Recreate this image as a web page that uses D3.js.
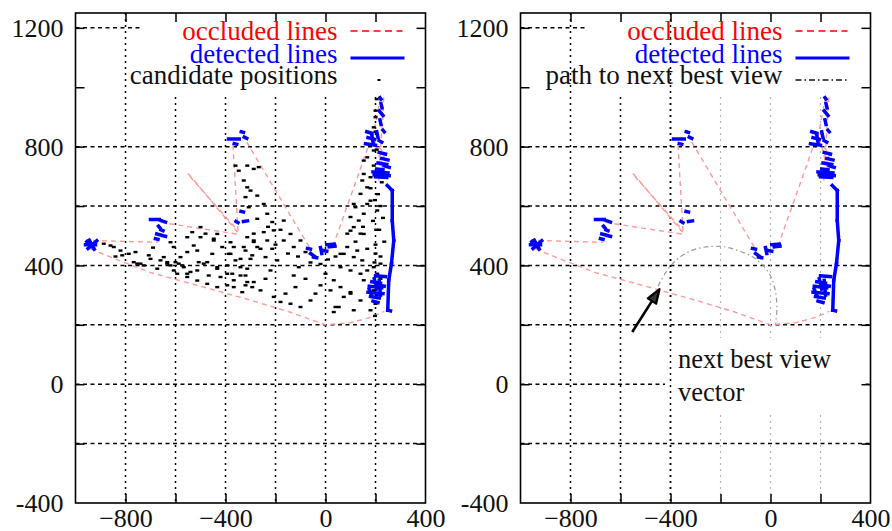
<!DOCTYPE html>
<html>
<head>
<meta charset="utf-8">
<script src="https://cdn.jsdelivr.net/npm/d3@7"></script>
<style>
  body { margin: 0; background: #fff; }
  svg { display: block; }
</style>
</head>
<body>
<svg id="chart" width="892" height="531"></svg>
<script>
// Axis extents and tick values
const xDomain = [-1000, 400];
const yDomain = [-400, 1250];
const xTickValues = [-800, -600, -400, -200, 0, 200];
const yTickValues = [-200, 0, 200, 400, 600, 800, 1000, 1200];
const xLabelValues = [-800, -400, 0, 400];
const yLabelValues = [-400, 0, 400, 800, 1200];
const gridXValues = [-800, -600, -400, -200, 0, 200];
const gridYValues = [-200, 0, 200, 400, 600, 800, 1200];
const fadedGridX = [-200, 0, 200];

// Occluded line polylines (mm)
const occludedLines = [
  [[-930, 484], [-670, 478]],
  [[-940, 455], [-820, 415], [-700, 376], [-500, 330], [-300, 283], [-150, 245], [0, 200], [100, 207], [180, 225], [235, 245]],
  [[-660, 545], [-350, 505]],
  [[-550, 710], [-350, 510]],
  [[-543, 700], [-356, 522]],
  [[-370, 805], [-350, 515]],
  [[-315, 815], [-60, 455]],
  [[30, 465], [175, 810]],
  [[220, 966], [187, 820]],
  [[233, 966], [213, 686]],
  [[187, 820], [240, 775]],
  [[195, 830], [230, 720]],
  [[240, 780], [200, 700]],
  [[212, 312], [218, 308]]
];

// Detected line segments [x1, y1, x2, y2] (mm)
const detectedLines = [
  [-960, 470, -920, 470], [-955, 480, -930, 460], [-950, 457, -915, 483], [-945, 485, -925, 455],
  [-700, 555, -665, 555], [-660, 552, -640, 546], [-668, 532, -662, 526], [-658, 520, -650, 517],
  [-675, 506, -662, 503], [-650, 500, -640, 498], [-680, 490, -670, 488],
  [-388, 826, -345, 826], [-337, 850, -328, 848], [-365, 810, -355, 808], [-325, 832, -315, 828],
  [-338, 582, -328, 580], [-358, 548, -350, 544], [-328, 548, -312, 550],
  [-72, 457, -60, 455], [-60, 440, -40, 428], [-48, 428, -35, 426], [-20, 460, -15, 440],
  [-10, 450, 5, 448], [5, 470, 35, 472], [15, 463, 38, 465],
  [218, 965, 222, 960], [222, 945, 226, 930], [215, 920, 230, 905], [218, 890, 222, 875],
  [165, 850, 185, 845], [170, 830, 195, 825], [160, 810, 200, 805], [185, 840, 190, 815],
  [205, 850, 210, 830], [230, 855, 235, 850], [215, 820, 225, 815],
  [215, 780, 240, 775], [225, 760, 250, 755], [210, 745, 245, 740], [235, 735, 255, 730],
  [190, 715, 250, 712], [195, 705, 255, 702], [200, 698, 245, 696], [205, 725, 230, 722],
  [247, 669, 267, 652], [267, 652, 267, 551], [267, 551, 273, 484], [273, 484, 264, 407],
  [264, 407, 253, 350], [253, 350, 249, 249], [249, 249, 260, 247],
  [175, 330, 225, 325], [170, 310, 230, 305], [180, 295, 215, 290], [185, 345, 220, 340],
  [190, 280, 210, 275], [195, 355, 205, 320], [215, 350, 220, 300], [175, 320, 185, 300],
  [205, 335, 235, 330], [200, 365, 240, 362]
];

// Candidate viewing positions (mm)
const candidatePositions = [
  [-887, 473], [-860, 467], [-847, 462], [-820, 450], [-813, 434], [-787, 439], [-767, 411], [-740, 406],
  [-707, 434], [-700, 422], [-660, 417], [-647, 428], [-633, 411], [-620, 400], [-600, 411], [-587, 406],
  [-580, 428], [-607, 462], [-620, 478], [-553, 495], [-533, 512], [-527, 467], [-513, 450], [-500, 495],
  [-553, 445], [-567, 394], [-540, 378], [-507, 411], [-473, 411], [-453, 439], [-447, 490], [-433, 506],
  [-433, 389], [-420, 361], [-473, 338], [-513, 349], [-553, 361], [-593, 372], [-367, 462], [-380, 478],
  [-387, 439], [-360, 417], [-393, 400], [-373, 372], [-340, 394], [-320, 366], [-313, 344], [-293, 327],
  [-367, 327], [-333, 310], [-393, 333], [-433, 327], [-320, 450], [-300, 422], [-287, 484], [-273, 462],
  [-313, 495], [-753, 406], [-727, 400], [-673, 389], [-633, 406], [-607, 383], [-573, 400], [-553, 372],
  [-513, 383], [-487, 406], [-467, 366], [-433, 394], [-393, 372], [-367, 350], [-340, 366], [-313, 389],
  [-320, 333], [-287, 344], [-260, 316], [-240, 355], [-220, 383], [-207, 294], [-180, 277], [-160, 305],
  [-140, 271], [-120, 327], [-100, 260], [-80, 355], [-60, 282], [-40, 305], [-20, 333], [0, 372],
  [20, 316], [33, 243], [53, 260], [73, 294], [100, 310], [113, 249], [140, 282], [153, 350],
  [167, 383], [180, 249], [200, 271], [193, 316], [220, 355], [220, 406], [207, 372], [-127, 366],
  [-107, 394], [100, 383], [140, 372], [33, 350], [60, 394], [-690, 460], [-760, 445], [-840, 430],
  [-360, 736], [-347, 719], [-313, 736], [-287, 725], [-267, 731], [-327, 686], [-313, 663], [-300, 652],
  [-320, 630], [-273, 635], [-307, 596], [-247, 607], [-233, 574], [-273, 557], [-213, 546], [-207, 518],
  [-247, 512], [-287, 507], [-233, 484], [-287, 479], [-327, 462], [-260, 456], [-213, 456], [-293, 434],
  [-240, 428], [-340, 422], [-193, 417], [-380, 439], [-413, 462], [-447, 484], [-480, 507], [-500, 529],
  [-167, 551], [-140, 506], [-167, 484], [-127, 462], [-100, 484], [-180, 520], [-150, 440], [-110, 430],
  [-80, 445], [-60, 410], [-20, 405], [10, 420], [40, 430], [-200, 470], [-230, 530],
  [100, 563], [113, 529], [87, 507], [140, 507], [153, 574], [167, 607], [113, 607], [140, 641],
  [167, 663], [180, 697], [153, 708], [193, 736], [167, 764], [193, 787], [180, 618], [207, 585],
  [87, 462], [127, 450], [167, 456], [60, 439], [200, 899], [200, 921], [193, 865], [205, 960],
  [210, 640], [220, 600], [230, 560], [215, 520], [235, 480], [200, 470], [220, 430], [120, 480],
  [150, 530], [190, 550], [225, 680], [180, 660], [200, 850], [205, 790], [198, 620], [203, 520],
  [200, 440], [196, 410], [205, 300], [198, 230], [153, 753], [147, 686], [120, 596], [133, 551],
  [100, 517], [153, 506], [73, 439], [113, 428], [147, 417], [193, 394], [60, 327], [100, 305], [40, 260]
];

// Route to the next best view and the view direction (mm)
const viewPath = [
  [-450, 330], [-420, 375], [-390, 408], [-350, 435], [-300, 455], [-240, 464], [-180, 462],
  [-120, 447], [-70, 428], [-30, 400], [0, 365], [18, 320], [25, 275], [25, 240], [20, 205]
];
const viewVector = [[-553, 176], [-447, 316]];

const legendLeft = ["occluded lines", "detected lines", "candidate positions"];
const legendRight = ["occluded lines", "detected lines", "path to next best view"];
const vectorLabel = ["next best view", "vector"];

const FONT = "'Liberation Serif', 'Tinos', 'DejaVu Serif', serif";
const RED = "#ff0000", BLUE = "#0000ff";
const svg = d3.select("#chart");
svg.append("rect").attr("width", 892).attr("height", 531).attr("fill", "#fff");

const defs = svg.append("defs");
defs.append("marker")
  .attr("id", "arrowHead")
  .attr("viewBox", "0 0 12 10")
  .attr("refX", 10).attr("refY", 5)
  .attr("markerWidth", 17).attr("markerHeight", 14)
  .attr("markerUnits", "userSpaceOnUse")
  .attr("orient", "auto")
  .append("path")
  .attr("d", "M1,1.5 L11,5 L1,8.5 Z")
  .attr("fill", "#333").attr("stroke", "#000").attr("stroke-width", 1.6)
  .attr("stroke-linejoin", "round");

function drawPanel(left, opts) {
  const top = 13, bottom = 503, width = 350;
  const x = d3.scaleLinear().domain(xDomain).range([left, left + width]);
  const y = d3.scaleLinear().domain(yDomain).range([bottom, top]);
  const g = svg.append("g");
  const clipId = "clip" + opts.id;
  defs.append("clipPath").attr("id", clipId)
    .append("rect").attr("x", left).attr("y", top).attr("width", width).attr("height", bottom - top);
  const plot = g.append("g").attr("clip-path", `url(#${clipId})`);

  // horizontal grid
  plot.selectAll(".gy").data(gridYValues).join("line")
    .attr("x1", left).attr("x2", left + width)
    .attr("y1", d => y(d)).attr("y2", d => y(d))
    .attr("stroke", "#000").attr("stroke-width", 1.5).attr("stroke-dasharray", "4,3.5");

  // vertical grid
  plot.selectAll(".gx").data(gridXValues).join("line")
    .attr("x1", d => x(d)).attr("x2", d => x(d))
    .attr("y1", top).attr("y2", bottom)
    .attr("stroke", d => (opts.faded && fadedGridX.includes(d)) ? "#b4b4b4" : "#000")
    .attr("stroke-width", d => (opts.faded && fadedGridX.includes(d)) ? 1.2 : 1.5)
    .attr("stroke-dasharray", "2,4");

  // opaque key box
  plot.append("rect")
    .attr("x", left + 65).attr("y", top).attr("width", width - 65).attr("height", 80)
    .attr("fill", "#fff");

  if (opts.vectorLabel) {
    plot.append("rect")
      .attr("x", x(-430) + 2).attr("y", 338).attr("width", 200).attr("height", 74)
      .attr("fill", "#fff");
    plot.append("line")
      .attr("x1", x(-400)).attr("x2", x(-400)).attr("y1", top).attr("y2", bottom)
      .attr("stroke", "#000").attr("stroke-width", 1.5).attr("stroke-dasharray", "2,4");
  }

  const line = d3.line().x(d => x(d[0])).y(d => y(d[1]));

  // occluded lines
  plot.selectAll(".occ").data(occludedLines).join("path")
    .attr("d", line).attr("fill", "none")
    .attr("stroke", "#ff9a9a").attr("stroke-width", 1.4)
    .attr("stroke-dasharray", "5,4");

  // candidate positions
  if (opts.candidates) {
    plot.selectAll(".cand").data(candidatePositions).join("rect")
      .attr("x", d => x(d[0]) - 2).attr("y", d => y(d[1]) - 1.2)
      .attr("width", 4).attr("height", 2.4).attr("fill", "#000");
  }

  // detected lines
  plot.selectAll(".det").data(detectedLines).join("line")
    .attr("x1", d => x(d[0])).attr("y1", d => y(d[1]))
    .attr("x2", d => x(d[2])).attr("y2", d => y(d[3]))
    .attr("stroke", BLUE).attr("stroke-width", 3.5).attr("stroke-linecap", "square");

  if (opts.path) {
    plot.append("path").datum(viewPath)
      .attr("d", line.curve(d3.curveCatmullRom)).attr("fill", "none")
      .attr("stroke", "#9a9a9a").attr("stroke-width", 1.2)
      .attr("stroke-dasharray", "5,3,1.5,3");
    plot.append("line")
      .attr("x1", x(viewVector[0][0])).attr("y1", y(viewVector[0][1]))
      .attr("x2", x(viewVector[1][0])).attr("y2", y(viewVector[1][1]))
      .attr("stroke", "#000").attr("stroke-width", 2.6)
      .attr("marker-end", "url(#arrowHead)");
  }

  if (opts.vectorLabel) {
    const t = g.append("text").attr("font-size", 26.5).attr("font-family", FONT).attr("fill", "#111");
    vectorLabel.forEach((s, i) => {
      t.append("tspan").attr("x", x(-370)).attr("y", 368 + i * 33).text(s);
    });
  }

  // ticks on all four sides, pointing inward
  const tickLen = 9;
  const axes = [
    { ax: d3.axisBottom(x).tickValues(xTickValues).tickSize(-tickLen), t: `translate(0,${bottom})` },
    { ax: d3.axisTop(x).tickValues(xTickValues).tickSize(-tickLen), t: `translate(0,${top})` },
    { ax: d3.axisLeft(y).tickValues(yTickValues).tickSize(-tickLen), t: `translate(${left},0)` },
    { ax: d3.axisRight(y).tickValues(yTickValues).tickSize(-tickLen), t: `translate(${left + width},0)` }
  ];
  axes.forEach(a => {
    const ag = g.append("g").attr("transform", a.t).call(a.ax.tickFormat(""));
    ag.select(".domain").remove();
    ag.selectAll("line").attr("stroke", "#000").attr("stroke-width", 1.5);
  });

  // tick labels
  const xl = g.append("g").attr("transform", `translate(0,${bottom})`)
    .call(d3.axisBottom(x).tickValues(xLabelValues).tickSize(0));
  xl.attr("font-family", FONT).attr("font-size", 26);
  xl.select(".domain").remove();
  xl.selectAll("text").attr("y", 24).attr("dy", 0).attr("fill", "#111");

  const yl = g.append("g").attr("transform", `translate(${left},0)`)
    .call(d3.axisLeft(y).tickValues(yLabelValues).tickSize(0).tickPadding(12).tickFormat(d => String(d)));
  yl.attr("font-family", FONT).attr("font-size", 26);
  yl.select(".domain").remove();
  yl.selectAll("text").attr("dy", "0.33em").attr("fill", "#111");

  // frame
  g.append("rect").attr("x", left).attr("y", top).attr("width", width).attr("height", bottom - top)
    .attr("fill", "none").attr("stroke", "#000").attr("stroke-width", 1.6);

  // legend
  const keyEnd = left + 262, sx0 = left + 275, sx1 = left + 329;
  const rows = [40, 63, 84];
  const sampleY = [31, 58, 80];
  const colors = [RED, BLUE, "#111"];
  opts.legend.forEach((label, i) => {
    g.append("text").attr("x", keyEnd).attr("y", rows[i]).attr("text-anchor", "end")
      .attr("font-family", FONT).attr("font-size", 27).attr("fill", colors[i]).text(label);
  });
  g.append("line").attr("x1", sx0).attr("x2", sx1 - 2).attr("y1", sampleY[0]).attr("y2", sampleY[0])
    .attr("stroke", RED).attr("stroke-width", 1.5).attr("stroke-dasharray", "7,4.5");
  g.append("line").attr("x1", sx0).attr("x2", sx1).attr("y1", sampleY[1]).attr("y2", sampleY[1])
    .attr("stroke", BLUE).attr("stroke-width", 3);
  if (opts.candidates) {
    g.append("rect").attr("x", left + 302).attr("y", sampleY[2] - 1).attr("width", 3).attr("height", 2)
      .attr("fill", "#000");
  } else {
    g.append("line").attr("x1", sx0).attr("x2", sx1).attr("y1", sampleY[2]).attr("y2", sampleY[2])
      .attr("stroke", "#111").attr("stroke-width", 1.4).attr("stroke-dasharray", "6,3,1.5,3");
  }
}

drawPanel(75.5, { id: "L", candidates: true, legend: legendLeft });
drawPanel(520.5, { id: "R", path: true, faded: true, vectorLabel: true, legend: legendRight });
</script>
</body>
</html>
